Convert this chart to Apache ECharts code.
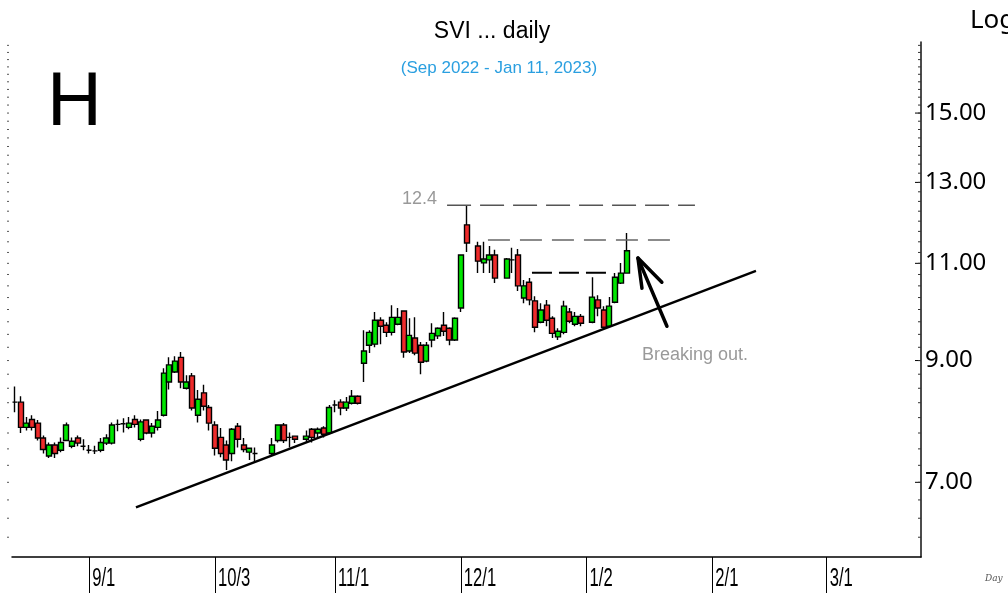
<!DOCTYPE html>
<html><head><meta charset="utf-8">
<script src="https://cdn.jsdelivr.net/npm/echarts@6/dist/echarts.min.js"></script>
<style>html,body{margin:0;padding:0;background:#fff}#c{width:1008px;height:593px}</style>
</head><body><div id="c"></div>
<script>
// ---- data ----
const startDate = '2022-08-15';   // first weekday slot on the axis
const slotCount = 159;            // weekday slots shown (through late March 2023)
const opens = [8.26,8.26,7.84,7.97,7.91,7.67,7.39,7.56,7.48,7.63,
  7.54,7.67,7.54,7.48,7.47,7.48,7.59,7.59,7.89,7.90,
  7.84,7.97,7.65,7.96,7.75,7.84,8.04,8.61,8.79,9.06,
  8.50,8.72,8.04,8.42,8.17,7.88,7.68,7.56,7.43,7.86,
  7.56,7.45,7.43,null,null,7.43,7.63,7.88,7.68,7.70,
  null,7.65,7.81,7.75,7.83,7.75,8.21,8.26,8.16,8.24,
  8.36,8.95,9.29,9.31,9.78,9.68,9.54,9.70,9.97,9.18,
  9.43,9.29,8.99,9.39,9.47,9.68,9.62,9.39,10.03,11.91,
  null,11.40,11.01,11.08,11.19,null,10.67,11.08,11.19,10.24,
  10.58,10.18,9.74,10.09,9.82,9.45,9.54,9.95,9.70,9.86,
  null,9.74,10.20,9.99,9.66,10.15,10.56,10.78];
const closes = [8.26,7.84,7.91,7.84,7.67,7.49,7.56,7.43,7.60,7.88,
  7.62,7.59,7.54,7.48,7.47,7.60,7.67,7.88,7.89,7.90,
  7.91,7.89,7.93,7.75,7.86,7.96,8.77,8.92,8.99,8.61,
  8.61,8.16,8.31,8.19,7.91,7.51,7.43,7.33,7.81,7.65,
  7.49,7.51,7.43,null,null,7.56,7.88,7.63,7.68,7.65,
  null,7.70,7.68,7.81,7.73,8.17,8.21,8.16,8.26,8.36,
  8.24,9.18,9.54,9.78,9.66,9.54,9.84,9.84,9.16,9.48,
  9.14,8.97,9.29,9.52,9.62,9.56,9.39,9.82,11.19,11.47,
  null,11.05,11.10,11.19,10.67,null,11.10,11.08,10.50,10.50,
  10.20,9.64,9.99,9.78,9.52,9.56,10.07,9.76,9.86,9.72,
  null,10.26,10.03,9.64,10.07,10.69,10.78,11.29];
const lows = [8.09,7.75,7.79,7.79,7.63,7.43,7.36,7.36,7.45,7.62,
  7.51,7.54,7.48,7.43,7.42,7.45,7.56,7.57,7.78,7.76,
  7.81,7.84,7.62,7.73,7.68,7.79,8.02,8.48,8.77,8.50,
  8.48,8.12,7.92,8.12,7.79,7.40,7.37,7.18,7.31,7.52,
  7.45,7.33,7.30,null,null,7.40,7.60,7.59,7.52,7.59,
  null,7.59,7.60,7.68,7.68,7.73,8.09,8.04,8.11,8.22,
  8.22,8.61,9.14,9.25,9.31,9.45,9.48,9.68,9.05,9.14,
  9.10,8.75,8.97,9.25,9.41,9.47,9.29,9.37,9.95,11.26,
  null,10.78,10.78,10.78,10.56,null,10.66,10.78,10.39,10.13,
  10.09,9.54,9.72,9.66,9.43,9.39,9.50,9.72,9.66,9.66,
  null,9.72,9.86,9.62,9.64,10.13,10.54,10.77];
const highs = [8.53,8.36,8.01,8.04,7.96,7.71,7.60,7.60,7.68,7.92,
  7.68,7.71,7.65,7.56,7.55,7.67,7.73,7.92,7.97,7.99,
  8.01,8.04,7.97,7.97,7.91,8.11,8.86,9.06,9.08,9.16,
  8.73,8.77,8.47,8.56,8.21,7.94,7.83,7.63,7.83,7.91,
  7.67,7.52,7.52,null,null,7.67,7.89,7.91,7.76,7.71,
  null,7.79,7.83,7.84,7.86,8.21,8.29,8.31,8.35,8.47,
  8.38,9.58,9.58,9.95,9.84,9.74,10.09,10.03,9.98,9.82,
  9.84,9.35,9.35,9.72,9.64,9.95,9.64,9.84,11.21,12.40,
  null,11.50,11.50,11.40,11.31,null,11.12,11.36,11.33,10.63,
  10.67,10.28,10.13,10.20,9.86,9.62,10.18,10.03,9.95,9.91,
  null,10.69,10.30,10.07,10.26,10.78,11.01,11.71];
const yLabelValues = [7, 9, 11, 13, 15];
// annotation lines: [slot position, price]
const trendLine = [[21.18, 6.648], [129.63, 10.83]];
const highLine = [[75.6, 12.4], [118.96, 12.4]];
const upperResistance = [[82.75, 11.54], [114.9, 11.54]];
const lowerResistance = [[90.45, 10.79], [103.57, 10.79]];
const arrowShaft = [[114.06, 9.66], [108.99, 11.12]];
const arrowHead = [[109.69, 10.45], [108.99, 11.12], [113.17, 10.58]];
const notes = [
  {value: [73.83, 12.56], name: '12.4', side: 'left'},
  {value: [109.69, 9.10], name: 'Breaking out.', side: 'right'}
];

// ---- build ----
function weekdays(start, n) {
  const out = [];
  const d = new Date(start + 'T00:00:00Z');
  while (out.length < n) {
    const wd = d.getUTCDay();
    if (wd !== 0 && wd !== 6) out.push(d.getUTCFullYear() + '-' + (d.getUTCMonth() + 1) + '-' + d.getUTCDate());
    d.setUTCDate(d.getUTCDate() + 1);
  }
  return out;
}
const categories = weekdays(startDate, slotCount);
const monthStart = categories.map((c, i) => i > 0 && c.split('-')[1] !== categories[i - 1].split('-')[1]);
const monthLabels = [];
categories.forEach((c, i) => { if (monthStart[i]) { const p = c.split('-'); monthLabels.push([i, 6, p[1] + '/' + p[2]]); } });
const candles = opens.map((o, i) => o == null ? '-' : [o, closes[i], lows[i], highs[i]]);
const minorTicks = [];
for (let v = 6.25; v < 17.3; v += 0.25) minorTicks.push([slotCount - 0.5, +v.toFixed(2)]);

const chart = echarts.init(document.getElementById('c'), null, {renderer: 'canvas'});
const lineBase = {type: 'line', xAxisIndex: 1, yAxisIndex: 0, symbol: 'none', silent: true, animation: false};
chart.setOption({
  animation: false,
  backgroundColor: '#fff',
  title: [
    {text: 'SVI ... daily', left: 487, top: 15, textAlign: 'center',
     textStyle: {fontFamily: 'Liberation Sans, Arial, sans-serif', fontSize: 23, fontWeight: 'normal', color: '#000'}},
    {text: '(Sep 2022 - Jan 11, 2023)', left: 494, top: 55, textAlign: 'center',
     textStyle: {fontFamily: 'Liberation Sans, Arial, sans-serif', fontSize: 17, fontWeight: 'normal', color: '#2a9fe0'}}
  ],
  graphic: [
    {type: 'text', left: 47, top: 66, style: {text: 'H', font: '76px "Liberation Sans", Arial, sans-serif', fill: '#000'}},
    {type: 'text', left: 970, top: 8, style: {text: 'Log', font: '26px "Noto Sans", sans-serif', fill: '#000'}},
    {type: 'text', left: 985, top: 574, style: {text: 'Day', font: 'italic 9px "DejaVu Serif", serif', fill: '#555'}}
  ],
  grid: {left: 12, right: 87, top: 42, bottom: 36, containLabel: false},
  xAxis: [
    {type: 'category', data: categories, boundaryGap: true,
     axisLine: {show: true, onZero: false, lineStyle: {color: '#000', width: 1.5}},
     axisTick: {show: true, alignWithLabel: true, length: 36, interval: (i) => monthStart[i], lineStyle: {color: '#000', width: 1}},
     axisLabel: {show: false},
     splitLine: {show: false}},
    {type: 'value', min: -0.5, max: slotCount - 0.5, show: false}
  ],
  yAxis: [
    {type: 'log', logBase: 10, min: 6, max: 17.37, position: 'right',
     axisLine: {show: true, onZero: false, lineStyle: {color: '#111', width: 1.5}},
     axisTick: {show: false}, axisLabel: {show: false}, splitLine: {show: false}, minorSplitLine: {show: false}}
  ],
  series: [
    {type: 'candlestick', xAxisIndex: 0, yAxisIndex: 0, data: candles, barWidth: 5.5,
     itemStyle: {color: '#00e600', color0: '#ee2b2b', borderColor: '#000', borderColor0: '#000', borderColorDoji: '#000', borderWidth: 1.4}},
    Object.assign({}, lineBase, {data: trendLine, lineStyle: {color: '#000', width: 2.5}}),
    Object.assign({}, lineBase, {data: highLine, lineStyle: {color: '#555', width: 1.5, type: [24, 9]}}),
    Object.assign({}, lineBase, {data: upperResistance, lineStyle: {color: '#666', width: 1.5, type: [22, 10]}}),
    Object.assign({}, lineBase, {data: lowerResistance, lineStyle: {color: '#000', width: 2, type: [20, 7]}}),
    Object.assign({}, lineBase, {data: arrowShaft, lineStyle: {color: '#000', width: 3.5, cap: 'round'}}),
    Object.assign({}, lineBase, {data: arrowHead, lineStyle: {color: '#000', width: 3.5, cap: 'round', join: 'round'}}),
    {type: 'scatter', xAxisIndex: 1, yAxisIndex: 0, symbolSize: 0, silent: true,
     data: notes.map(n => ({value: n.value, name: n.name,
       label: {show: true, position: n.side, distance: 0, formatter: '{b}',
         fontFamily: 'Liberation Sans, Arial, sans-serif', fontSize: 18, color: '#7f7f7f'}}))},
    {type: 'custom', xAxisIndex: 0, yAxisIndex: 0, silent: true, clip: false,
     data: monthLabels,
     renderItem: (params, api) => {
       const p = api.coord([api.value(0), api.value(1)]);
       return {type: 'text', x: p[0] + 3, y: p[1] + 9, scaleX: 0.64, scaleY: 1,
         style: {text: monthLabels[params.dataIndex][2], x: 0, y: 0, font: '26px "Liberation Sans", Arial, sans-serif', fill: '#000', align: 'left', verticalAlign: 'top'}};
     }},
    {type: 'custom', xAxisIndex: 1, yAxisIndex: 0, silent: true, clip: false,
     data: yLabelValues.map(v => [slotCount - 0.5, v]),
     renderItem: (params, api) => {
       const p = api.coord([api.value(0), api.value(1)]);
       return {type: 'group', children: [
         {type: 'line', shape: {x1: p[0] - 6, y1: p[1], x2: p[0], y2: p[1]}, style: {stroke: '#000', lineWidth: 1}},
         {type: 'text', x: p[0] + 4, y: p[1], style: {text: api.value(1).toFixed(2), font: '24px "Noto Sans", sans-serif', fill: '#000', verticalAlign: 'middle', align: 'left'}}
       ]};
     }},
    {type: 'custom', xAxisIndex: 1, yAxisIndex: 0, silent: true, clip: false,
     data: minorTicks,
     renderItem: (params, api) => {
       const p = api.coord([api.value(0), api.value(1)]);
       const left = params.coordSys.x;
       return {type: 'group', children: [
         {type: 'line', shape: {x1: p[0] - 3, y1: p[1], x2: p[0], y2: p[1]}, style: {stroke: '#333', lineWidth: 1}},
         {type: 'line', shape: {x1: left - 5, y1: p[1], x2: left - 3, y2: p[1]}, style: {stroke: '#555', lineWidth: 1}}
       ]};
     }}
  ]
});
</script></body></html>
